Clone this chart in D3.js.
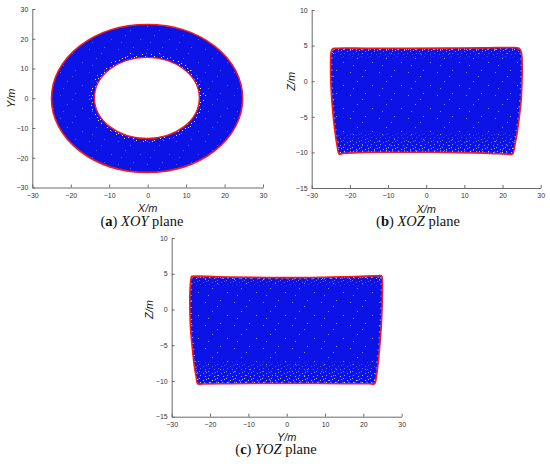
<!DOCTYPE html>
<html><head><meta charset="utf-8">
<script src="https://cdn.jsdelivr.net/npm/d3@7/dist/d3.min.js"></script>
<style>body{margin:0;background:#fff}</style></head>
<body>
<svg id="c" width="550" height="464" xmlns="http://www.w3.org/2000/svg"></svg>
<script>
// ---------- data ----------
const xTicks = [-30, -20, -10, 0, 10, 20, 30];
const yTicksXOY = [-30, -20, -10, 0, 10, 20, 30];
const zTicks = [-15, -10, -5, 0, 5, 10];
// XOY plane: fitted outer and inner boundary circles (m)
const xoyOuter = {cx: -0.15, cy: -0.07, r: 24.85};
const xoyInner = {cx: -0.2, cy: 0.1, r: 13.65};
// XOZ plane boundary (x, z)
const xozOutline = [
  [-24.9, 4.1], [-24.6, 4.5], [-23.8, 4.62], [-15, 4.62], [-5, 4.63], [5, 4.65], [15, 4.68], [23.3, 4.72],
  [24.4, 4.6], [24.95, 4.0], [25.15, 2.0], [25.1, 0], [24.9, -2.5], [24.45, -4.8], [23.9, -7.0],
  [23.3, -8.8], [22.6, -10.25], [21.5, -10.25], [15, -10.1], [5, -10.0], [-5, -9.98], [-16, -10.0],
  [-21.8, -10.15], [-22.8, -10.22], [-23.4, -8.9], [-23.95, -6.9], [-24.35, -5.0], [-24.75, -2.5],
  [-25.0, 0], [-25.05, 2.5]
];
// YOZ plane boundary (y, z)
const yozOutline = [
  [-25.0, 4.2], [-24.8, 4.62], [-24.0, 4.66], [-15, 4.55], [-5, 4.47], [5, 4.47], [15, 4.58], [23.8, 4.72],
  [24.75, 4.7], [24.95, 4.0], [24.95, 2.0], [24.8, -1.0], [24.45, -4.0], [23.95, -7.0], [23.45, -9.2],
  [22.9, -10.4], [21.5, -10.4], [15, -10.38], [5, -10.35], [-5, -10.35], [-15, -10.38], [-22.0, -10.42],
  [-23.2, -10.42], [-23.6, -9.5], [-24.2, -7.5], [-24.7, -5.0], [-25.1, -2.5], [-25.25, 0], [-25.25, 2.2]
];

// ---------- drawing ----------
const svg = d3.select('#c');
const BLUE = '#0b13e6', RED = '#f2191c';
const defs = svg.append('defs');

// speckle textures (white point gaps in the cloud)
const pat1 = defs.append('pattern').attr('id', 'sp1').attr('patternUnits', 'userSpaceOnUse')
  .attr('width', 9).attr('height', 7);
[[1,0],[5,2],[2,4],[7,5],[8,1]].forEach(p => pat1.append('rect').attr('x', p[0]).attr('y', p[1])
  .attr('width', 1).attr('height', 1).attr('fill', '#fff'));
const pat2 = defs.append('pattern').attr('id', 'sp2').attr('patternUnits', 'userSpaceOnUse')
  .attr('width', 29).attr('height', 23);
[[2,3],[17,1],[9,12],[24,16],[5,19],[14,7]].forEach(p => pat2.append('rect').attr('x', p[0]).attr('y', p[1])
  .attr('width', 1).attr('height', 1).attr('fill', '#dfe3ff'));
const g1 = defs.append('linearGradient').attr('id', 'gUp').attr('x1', 0).attr('y1', 1).attr('x2', 0).attr('y2', 0);
g1.append('stop').attr('offset', 0).attr('stop-color', '#fff');
g1.append('stop').attr('offset', 1).attr('stop-color', '#000');
const g2 = defs.append('linearGradient').attr('id', 'gDown').attr('x1', 0).attr('y1', 0).attr('x2', 0).attr('y2', 1);
g2.append('stop').attr('offset', 0).attr('stop-color', '#fff');
g2.append('stop').attr('offset', 1).attr('stop-color', '#000');
['gUp', 'gDown'].forEach(id => {
  defs.append('mask').attr('id', 'm' + id).attr('maskContentUnits', 'objectBoundingBox')
    .append('rect').attr('width', 1).attr('height', 1).attr('fill', `url(#${id})`);
});

function axes(g, x, y, yt, xl, yl, ylx, xlY) {
  const ax = g.append('g').attr('transform', `translate(0,${y.range()[0]})`)
    .call(d3.axisBottom(x).tickValues(xTicks).tickSizeInner(-3).tickSizeOuter(0).tickPadding(5.3));
  const ay = g.append('g').attr('transform', `translate(${x.range()[0]},0)`)
    .call(d3.axisLeft(y).tickValues(yt).tickSizeInner(-3).tickSizeOuter(0).tickPadding(4));
  [ax, ay].forEach(a => {
    a.selectAll('.domain').attr('stroke', '#6a6a6a');
    a.selectAll('line').attr('stroke', '#6a6a6a');
    a.selectAll('text').attr('font-family', 'Liberation Sans, Arial, sans-serif').attr('font-size', 7).attr('fill', '#333');
  });
  const xc = (x.range()[0] + x.range()[1]) / 2;
  g.append('text').attr('x', xc).attr('y', xlY).attr('text-anchor', 'middle')
    .attr('font-family', 'Liberation Sans, Arial, sans-serif').attr('font-size', 11).attr('font-style', 'italic')
    .attr('fill', '#222').text(xl);
  const ymid = y(0);
  g.append('text').attr('transform', `translate(${ylx},${ymid}) rotate(-90)`).attr('text-anchor', 'middle')
    .attr('dy', '0.35em')
    .attr('font-family', 'Liberation Sans, Arial, sans-serif').attr('font-size', 11).attr('font-style', 'italic')
    .attr('fill', '#222').text(yl);
}

function caption(xc, yb, label, plane) {
  const t = svg.append('text').attr('x', xc).attr('y', yb).attr('text-anchor', 'middle')
    .attr('font-family', 'Liberation Serif, Times New Roman, serif').attr('font-size', 14.5).attr('fill', '#111');
  t.append('tspan').text('(');
  t.append('tspan').attr('font-weight', 'bold').text(label);
  t.append('tspan').text(') ');
  t.append('tspan').attr('font-style', 'italic').text(plane);
  t.append('tspan').text(' plane');
}

function ellipsePath(x, y, c, r) {
  const cx = x(c.cx), cy = y(c.cy), rx = x(c.cx + r) - x(c.cx), ry = y(c.cy) - y(c.cy + r);
  return `M${cx - rx},${cy}a${rx},${ry} 0 1,0 ${2 * rx},0a${rx},${ry} 0 1,0 ${-2 * rx},0Z`;
}

// ---- (a) XOY ----
{
  const x = d3.scaleLinear().domain([-30, 30]).range([32.3, 263]);
  const y = d3.scaleLinear().domain([-30, 30]).range([187.5, 9]);
  const g = svg.append('g');
  g.append('path').attr('d', ellipsePath(x, y, xoyOuter, xoyOuter.r) + ellipsePath(x, y, xoyInner, xoyInner.r))
    .attr('fill', BLUE).attr('fill-rule', 'evenodd');
  g.append('path').attr('d', ellipsePath(x, y, xoyOuter, xoyOuter.r) + ellipsePath(x, y, xoyInner, xoyInner.r))
    .attr('fill', 'url(#sp2)').attr('fill-rule', 'evenodd').attr('opacity', 0.35);
  g.append('path').attr('d', ellipsePath(x, y, xoyInner, xoyInner.r + 1.3) + ellipsePath(x, y, xoyInner, xoyInner.r))
    .attr('fill', 'url(#sp1)').attr('fill-rule', 'evenodd').attr('opacity', 0.9);
  g.append('path').attr('d', ellipsePath(x, y, xoyInner, xoyInner.r + 2.3) + ellipsePath(x, y, xoyInner, xoyInner.r + 1.3))
    .attr('fill', 'url(#sp2)').attr('fill-rule', 'evenodd').attr('opacity', 0.9);
  g.append('path').attr('d', ellipsePath(x, y, xoyOuter, xoyOuter.r)).attr('fill', 'none')
    .attr('stroke', RED).attr('stroke-width', 1.6);
  g.append('path').attr('d', ellipsePath(x, y, xoyInner, xoyInner.r)).attr('fill', 'none')
    .attr('stroke', RED).attr('stroke-width', 1.4);
  axes(g, x, y, yTicksXOY, 'X/m', 'Y/m', 11, 212);
  caption(142, 226, 'a', 'XOY');
}

function boxPanel(id, outline, x, y) {
  const g = svg.append('g');
  const line = d3.line().x(d => x(d[0])).y(d => y(d[1])).curve(d3.curveCatmullRomClosed.alpha(0.5));
  const d = line(outline);
  defs.append('clipPath').attr('id', 'clip' + id).append('path').attr('d', d);
  g.append('path').attr('d', d).attr('fill', BLUE);
  const inner = g.append('g').attr('clip-path', `url(#clip${id})`);
  const x0 = x(-26), x1 = x(26);
  // sparse interior gaps
  inner.append('rect').attr('x', x0).attr('y', y(4.8)).attr('width', x1 - x0).attr('height', y(-10.6) - y(4.8))
    .attr('fill', 'url(#sp2)').attr('opacity', 0.6);
  // bottom band: denser toward the bottom
  inner.append('rect').attr('x', x0).attr('y', y(-6.8)).attr('width', x1 - x0).attr('height', y(-10.6) - y(-6.8))
    .attr('fill', 'url(#sp1)').attr('mask', 'url(#mgUp)').attr('opacity', 0.95);
  // top band
  inner.append('rect').attr('x', x0).attr('y', y(4.8)).attr('width', x1 - x0).attr('height', y(3.0) - y(4.8))
    .attr('fill', 'url(#sp1)').attr('mask', 'url(#mgDown)').attr('opacity', 0.7);
  // edges
  inner.append('path').attr('d', d).attr('fill', 'none').attr('stroke', '#fff').attr('stroke-width', 4)
    .attr('stroke-dasharray', '1 5').attr('opacity', 0.6);
  g.append('path').attr('d', d).attr('fill', 'none').attr('stroke', RED).attr('stroke-width', 1.6)
    .attr('stroke-linejoin', 'round');
  return g;
}

// ---- (b) XOZ ----
{
  const x = d3.scaleLinear().domain([-30, 30]).range([311.7, 540.7]);
  const y = d3.scaleLinear().domain([-15, 10]).range([188, 10]);
  const g = boxPanel('b', xozOutline, x, y);
  axes(g, x, y, zTicks, 'X/m', 'Z/m', 291.5, 212.5);
  caption(418, 226, 'b', 'XOZ');
}

// ---- (c) YOZ ----
{
  const x = d3.scaleLinear().domain([-30, 30]).range([171.7, 401.7]);
  const y = d3.scaleLinear().domain([-15, 10]).range([416.7, 238]);
  const g = boxPanel('c', yozOutline, x, y);
  axes(g, x, y, zTicks, 'Y/m', 'Z/m', 149, 440.5);
  caption(276, 454, 'c', 'YOZ');
}
</script>
</body></html>
